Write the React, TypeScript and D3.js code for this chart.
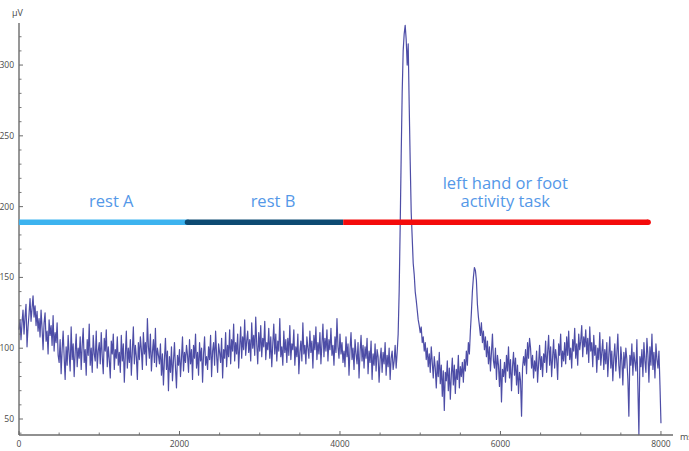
import React from "react";
import * as d3 from "d3";

const WIDTH = 689;
const HEIGHT = 451;

// Sample spacing of the recorded power trace, in ms
const SAMPLE_MS = 12.5;

// Band power (µV) during the first resting block, from 0 ms
const restASignal = [
  113, 120, 106, 118, 127, 110, 122, 131, 101, 115, 124, 135, 119, 128, 137, 122, 130, 116, 126, 112,
  121, 108, 127, 114, 99, 118, 125, 105, 112, 96, 120, 109, 116, 102, 123, 98, 111, 104, 118, 95,
  90, 106, 82, 99, 112, 94, 78, 101, 88, 109, 96, 84, 115, 92, 103, 80, 97, 110, 87, 100,
  93, 108, 85, 102, 114, 90, 99, 81, 106, 95, 117, 88, 100, 83, 109, 96, 91, 112, 86, 98,
  104, 89, 111, 94, 82, 107, 98, 113, 87, 101, 92, 79, 105, 96, 110, 85, 99, 93, 108, 88,
  97, 83, 109, 91, 103, 76, 95, 112, 86, 100, 90, 106, 81, 98, 115, 89, 102, 94, 78, 104,
  92, 108, 99, 85, 111, 96, 104, 88, 121, 101, 93, 110, 84, 97, 106, 90, 114, 87, 100, 95,
  89, 103, 81, 96, 74, 92, 107, 85, 98, 70, 94, 83, 101, 77, 91, 104, 86, 72, 95, 88,
  99, 80, 93, 108, 84, 97, 90, 102,
];

// Band power (µV) during the second resting block, from 2100 ms
const restBSignal = [
  95, 83, 106, 89, 99, 78, 102, 93, 110, 86, 97, 81, 104, 91, 100, 76, 96, 108, 88, 94,
  85, 101, 92, 109, 80, 98, 104, 88, 112, 95, 83, 103, 97, 90, 107, 79, 99, 93, 111, 87,
  102, 94, 113, 89, 106, 98, 117, 91, 104, 96, 110, 86, 101, 115, 93, 108, 99, 120, 95, 105,
  112, 97, 106, 91, 118, 100, 109, 95, 122, 103, 89, 111, 98, 116, 94, 107, 101, 119, 92, 104,
  99, 114, 93, 108, 87, 103, 117, 96, 110, 91, 105, 98, 121, 94, 101, 88, 112, 97, 106, 90,
  107, 95, 116, 92, 103, 99, 113, 88, 101, 94, 110, 82, 97, 105, 91, 118, 96, 102, 89, 108,
  100, 93, 112, 97, 105, 86, 109, 99, 115, 92, 104, 96, 111, 89, 103, 117, 94, 107, 98, 113,
  91, 106, 99, 114, 95, 102, 88, 108, 97, 121, 101, 93, 110, 96, 104, 90,
];

// Band power (µV) during the movement task, from 4050 ms
const taskSignal = [
  98, 87, 108, 94, 103, 81, 99, 111, 92, 100, 85, 106, 96, 89, 104, 79, 97, 109, 91, 102,
  86, 101, 93, 107, 82, 98, 90, 105, 78, 96, 88, 103, 84, 99, 94, 76, 92, 100, 83, 97,
  89, 104, 81, 95, 87, 100, 78, 93, 98, 85, 91, 102, 86, 97, 110, 140, 185, 235, 280, 310,
  322, 328, 318, 300, 315, 272, 232, 196, 178, 160, 152, 140, 134, 127, 120, 116, 111, 115, 104, 108,
  98, 104, 92, 100, 87, 96, 83, 101, 90, 79, 94, 86, 72, 91, 80, 97, 75, 88, 66, 84,
  56, 83, 77, 91, 70, 86, 64, 81, 93, 74, 88, 68, 85, 78, 95, 72, 87, 80, 90, 76,
  92, 84, 98, 88, 104, 96, 112, 125, 140, 150, 157, 155, 148, 131, 122, 116, 109, 118, 104, 112,
  99, 108, 94, 105, 89, 101, 84, 97, 110, 91, 86, 100, 78, 95, 88, 73, 92, 62, 85, 80,
  90, 76, 95, 84, 101, 79, 92, 70, 87, 97, 81, 93, 74, 88, 68, 83, 77, 52, 86, 94,
  88, 99, 82, 104, 93, 107, 100, 86, 95, 79, 91, 84, 98, 76, 89, 102, 85, 94, 80, 96,
  90, 105, 83, 97, 109, 88, 101, 80, 94, 106, 86, 99, 92, 78, 103, 95, 110, 87, 98, 91,
  104, 89, 108, 95, 112, 92, 100, 86, 106, 98, 114, 93, 103, 88, 110, 99, 105, 116, 94, 108,
  101, 113, 96, 107, 90, 115, 98, 104, 87, 109, 95, 102, 83, 100, 92, 111, 88, 97, 106, 85,
  99, 89, 104, 80, 95, 108, 86, 98, 77, 93, 103, 84, 96, 110, 88, 79, 101, 91, 74, 97,
  86, 100, 92, 78, 52, 95, 88, 103, 81, 97, 90, 84, 106, 72, 39, 94, 87, 99, 80, 104,
  91, 83, 107, 95, 76, 101, 88, 110, 85, 97, 79, 103, 92, 86, 98, 74, 47,
];

const signalSegments = [restASignal, restBSignal, taskSignal];
const segmentStartMs = [0, 2100, 4050];

// Experiment phases
const phaseNames = [["rest A"], ["rest B"], ["left hand or foot", "activity task"]];
const phaseStarts = [0, 2100, 4040];
const phaseEnds = [2100, 4040, 7840];
const phaseLevel = 189; // µV level where the phase bars run

const xMajorTicks = [0, 2000, 4000, 6000, 8000];
const yMajorTicks = [50, 100, 150, 200, 250, 300];

// Styling
const phaseColors = ["#3cb3ef", "#0d4a72", "#f40b0b"];
const labelColor = "#5498e8";
const traceColor = "#3a3a9c";
const axisColor = "#6b6b6b";
const tickTextColor = "#4a4a4a";

export default function App() {
  const points = signalSegments.flatMap((seg, s) =>
    seg.map((v, i) => ({ t: segmentStartMs[s] + i * SAMPLE_MS, v }))
  );

  const x = d3.scaleLinear().domain([0, 8150]).range([19, 673]);
  const y = d3.scaleLinear().domain([38.7, 329.7]).range([435, 23]);

  const line = d3
    .line<{ t: number; v: number }>()
    .x((d) => x(d.t))
    .y((d) => y(d.v));

  const xMinor = d3.range(0, 8001, 500).filter((t) => !xMajorTicks.includes(t));
  const yMinor = d3.range(40, 330, 10).filter((v) => !yMajorTicks.includes(v));

  const x0 = x(0);
  const yBase = y.range()[0];
  const barY = y(phaseLevel);

  // Caption anchors (ms, µV) for each phase
  const labelAnchors = [
    { t: 1150, v: 199.7 },
    { t: 3165, v: 199.7 },
    { t: 6060, v: 212.4 },
  ];

  const tickFont = "'Open Sans', 'DejaVu Sans', sans-serif";

  return (
    <svg
      width={WIDTH}
      height={HEIGHT}
      viewBox={`0 0 ${WIDTH} ${HEIGHT}`}
      style={{ position: "absolute", left: 0, top: 0, background: "#ffffff" }}
    >
      <rect x={0} y={0} width={WIDTH} height={HEIGHT} fill="#ffffff" />

      {/* power trace */}
      <path
        d={line(points) ?? ""}
        fill="none"
        stroke={traceColor}
        strokeWidth={1.2}
        strokeOpacity={0.9}
        strokeLinejoin="round"
      />

      {/* axes */}
      <line x1={x0} x2={x0} y1={y.range()[1]} y2={yBase} stroke={axisColor} strokeWidth={1.4} />
      <line x1={x0} x2={x.range()[1]} y1={yBase} y2={yBase} stroke={axisColor} strokeWidth={1.4} />

      {yMajorTicks.map((v) => (
        <g key={`ym${v}`}>
          <line x1={x0} x2={x0 + 4} y1={y(v)} y2={y(v)} stroke={axisColor} strokeWidth={1} />
          <text
            x={x0 - 5}
            y={y(v)}
            dy="0.35em"
            textAnchor="end"
            fontSize={8.5}
            fontFamily={tickFont}
            fill={tickTextColor}
          >
            {v}
          </text>
        </g>
      ))}
      {yMinor.map((v) => (
        <line key={`yn${v}`} x1={x0} x2={x0 + 2.5} y1={y(v)} y2={y(v)} stroke={axisColor} strokeWidth={0.9} />
      ))}

      {xMajorTicks.map((t) => (
        <g key={`xm${t}`}>
          <line x1={x(t)} x2={x(t)} y1={yBase} y2={yBase - 4} stroke={axisColor} strokeWidth={1} />
          <text
            x={x(t)}
            y={yBase + 12}
            textAnchor="middle"
            fontSize={8.5}
            fontFamily={tickFont}
            fill={tickTextColor}
          >
            {t}
          </text>
        </g>
      ))}
      {xMinor.map((t) => (
        <line key={`xn${t}`} x1={x(t)} x2={x(t)} y1={yBase} y2={yBase - 2.5} stroke={axisColor} strokeWidth={0.9} />
      ))}

      <text x={12} y={16} fontSize={9} fontFamily={tickFont} fill={tickTextColor}>
        μV
      </text>
      <text x={680} y={440} fontSize={9} fontFamily={tickFont} fill={tickTextColor}>
        ms
      </text>

      {/* phase bars */}
      <line
        x1={x(phaseStarts[0])}
        x2={x(phaseEnds[0])}
        y1={barY}
        y2={barY}
        stroke={phaseColors[0]}
        strokeWidth={5.5}
      />
      <line
        x1={x(phaseStarts[1])}
        x2={x(phaseEnds[1])}
        y1={barY}
        y2={barY}
        stroke={phaseColors[1]}
        strokeWidth={5.5}
      />
      <circle cx={x(phaseStarts[1])} cy={barY} r={2.75} fill={phaseColors[1]} />
      <line
        x1={x(phaseStarts[2])}
        x2={x(phaseEnds[2])}
        y1={barY}
        y2={barY}
        stroke={phaseColors[2]}
        strokeWidth={5.5}
      />
      <circle cx={x(phaseEnds[2])} cy={barY} r={2.75} fill={phaseColors[2]} />

      {/* phase captions */}
      {phaseNames.map((lines, i) => (
        <text
          key={`lbl${i}`}
          x={x(labelAnchors[i].t)}
          y={y(labelAnchors[i].v)}
          textAnchor="middle"
          fontSize={16.5}
          fontFamily="'Open Sans', sans-serif"
          fill={labelColor}
        >
          {lines.map((s, j) => (
            <tspan key={j} x={x(labelAnchors[i].t)} dy={j === 0 ? 0 : 18}>
              {s}
            </tspan>
          ))}
        </text>
      ))}
    </svg>
  );
}
